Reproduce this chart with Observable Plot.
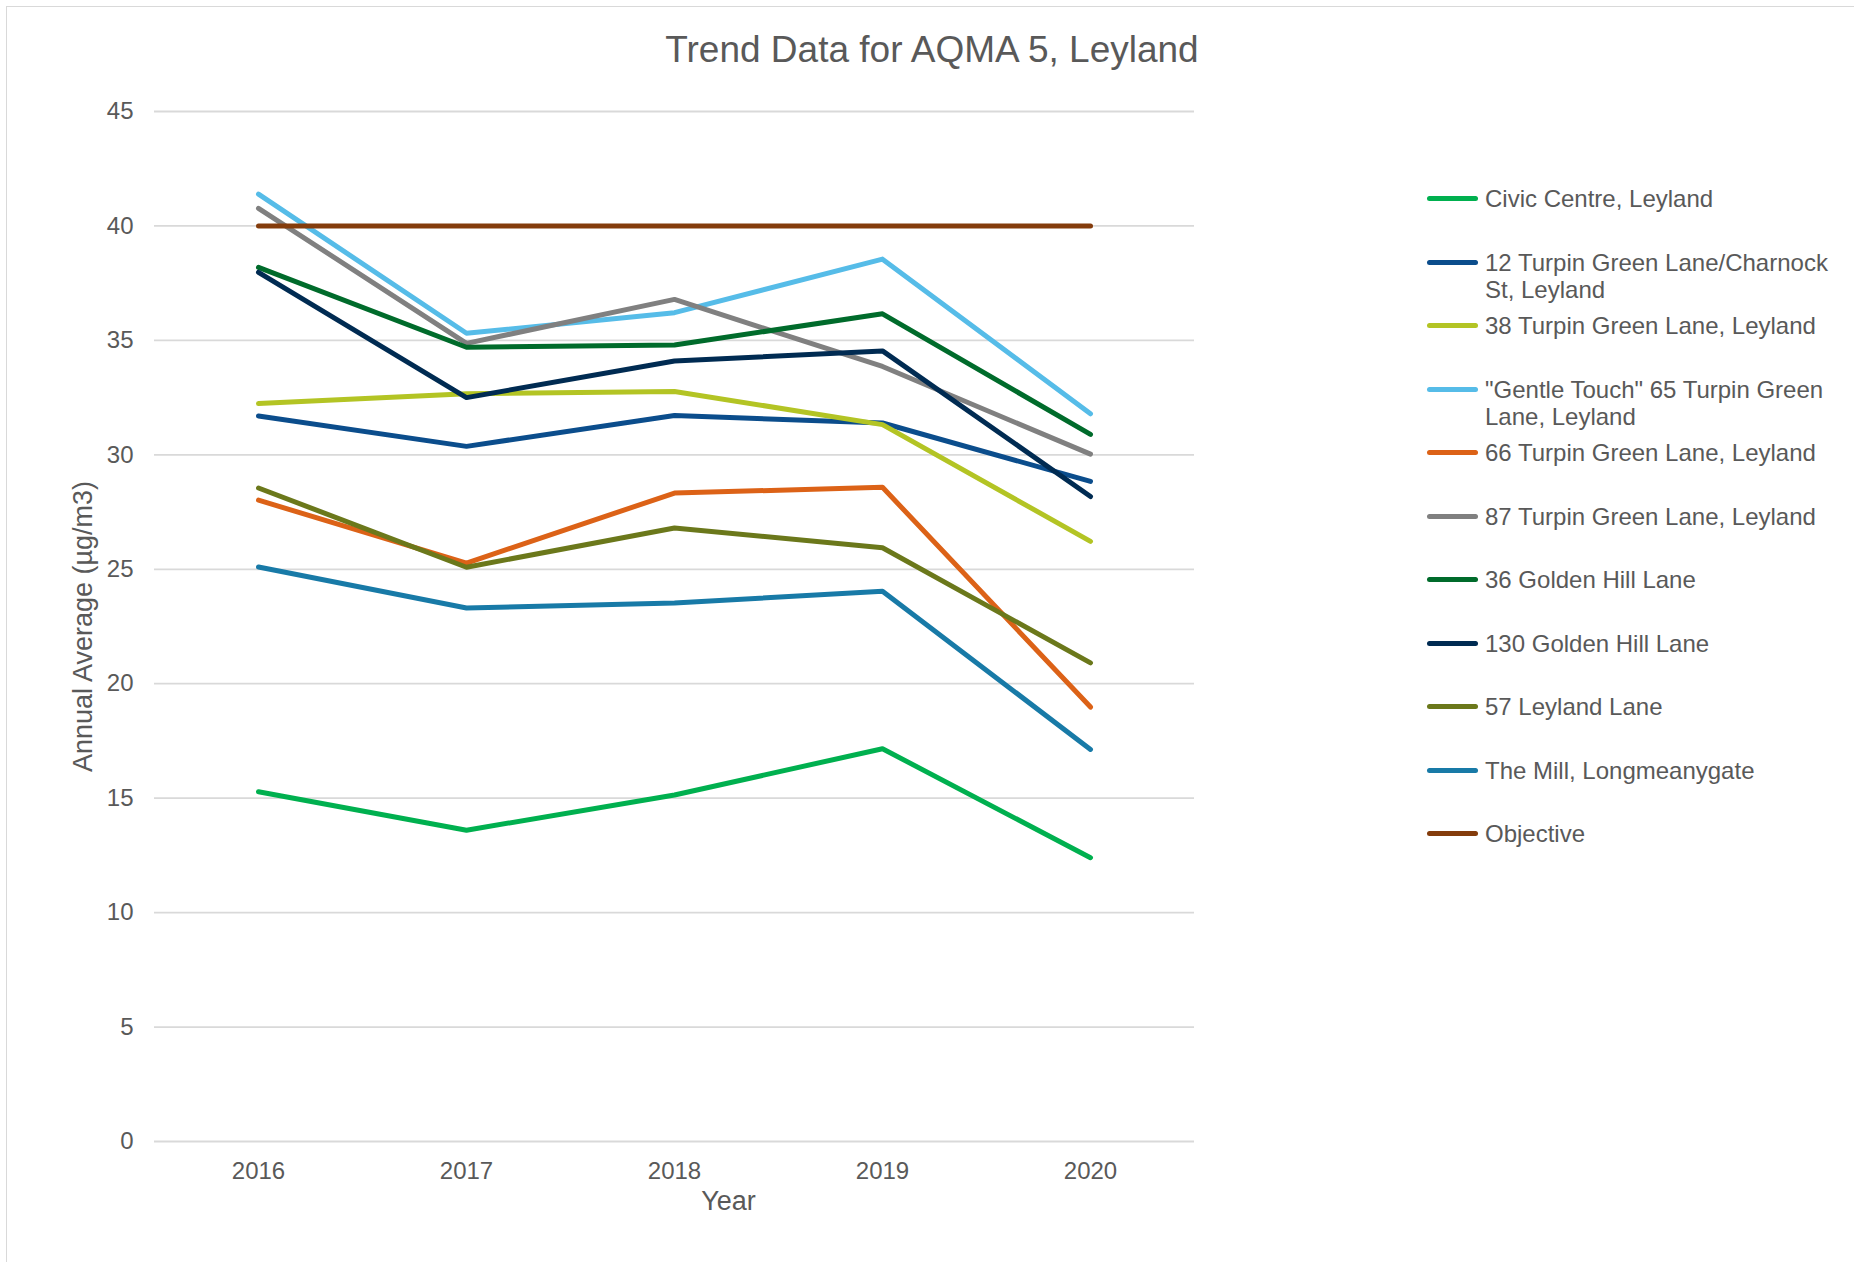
<!DOCTYPE html>
<html>
<head>
<meta charset="utf-8">
<script src="https://cdn.jsdelivr.net/npm/d3@7"></script>
<script src="https://cdn.jsdelivr.net/npm/@observablehq/plot@0.6"></script>
<style>
  html, body { margin: 0; padding: 0; background: #fff; }
  #wrap { position: relative; width: 1854px; height: 1262px; overflow: hidden; font-family: "Liberation Sans", Arial, sans-serif; color: #595959; }
  #border { position: absolute; left: 6px; top: 6px; width: 1900px; height: 1300px; border-top: 1.5px solid #d9d9d9; border-left: 1.5px solid #d9d9d9; }
  #chart { position: absolute; left: 0; top: 0; }
  #title { position: absolute; left: 0; width: 1864px; top: 31px; text-align: center; font-size: 37px; line-height: 1; white-space: nowrap; }
  .sw { position: absolute; left: 1427px; width: 51px; height: 5px; border-radius: 2.5px; }
  .lt { position: absolute; left: 1485px; width: 352px; font-size: 24px; line-height: 27.2px; }
</style>
</head>
<body>
<div id="wrap">
  <div id="border"></div>
  <div id="chart"></div>
  <div id="title"></div>
  <div id="legend"></div>
</div>
<script>
// ---- data ----
const years = ["2016", "2017", "2018", "2019", "2020"];
const seriesNames = [
  "Civic Centre, Leyland",
  "12 Turpin Green Lane/Charnock St, Leyland",
  "38 Turpin Green Lane, Leyland",
  "\"Gentle Touch\" 65 Turpin Green Lane, Leyland",
  "66 Turpin Green Lane, Leyland",
  "87 Turpin Green Lane, Leyland",
  "36 Golden Hill Lane",
  "130 Golden Hill Lane",
  "57 Leyland Lane",
  "The Mill, Longmeanygate",
  "Objective"
];
const seriesColors = [
  "#00b04f", "#0b4d8c", "#b3c424", "#56bce8", "#dc6217", "#808080",
  "#006b2b", "#002b52", "#6b781b", "#187aa7", "#843c0c"
];
const civicCentre   = [15.28, 13.60, 15.14, 17.16, 12.40];
const turpin12      = [31.70, 30.37, 31.72, 31.39, 28.84];
const turpin38      = [32.24, 32.67, 32.77, 31.32, 26.22];
const gentleTouch65 = [41.39, 35.31, 36.21, 38.55, 31.79];
const turpin66      = [28.02, 25.27, 28.33, 28.58, 18.98];
const turpin87      = [40.77, 34.87, 36.79, 33.86, 30.03];
const goldenHill36  = [38.19, 34.70, 34.80, 36.16, 30.89];
const goldenHill130 = [37.97, 32.50, 34.10, 34.54, 28.18];
const leylandLane57 = [28.55, 25.09, 26.80, 25.94, 20.91];
const theMill       = [25.10, 23.31, 23.53, 24.04, 17.13];
const objective     = [40, 40, 40, 40, 40];
const yTicks = [0, 5, 10, 15, 20, 25, 30, 35, 40, 45];

const titleText = "Trend Data for AQMA 5, Leyland";
const xLabel = "Year";
const yLabel = "Annual Average (µg/m3)";

// ---- table ----
const allSeries = [civicCentre, turpin12, turpin38, gentleTouch65, turpin66, turpin87,
                   goldenHill36, goldenHill130, leylandLane57, theMill, objective];
const rows = [];
allSeries.forEach((vals, i) => {
  vals.forEach((v, j) => rows.push({series: seriesNames[i], year: years[j], value: v}));
});

const FONT = "'Liberation Sans', Arial, sans-serif";

const chart = Plot.plot({
  width: 1854,
  height: 1262,
  marginLeft: 154,
  marginRight: 660,
  marginTop: 111,
  marginBottom: 121,
  style: {fontFamily: FONT, fontSize: "24px", color: "#595959", background: "transparent"},
  x: {type: "point", domain: years, padding: 0.5},
  y: {domain: [0, 45]},
  color: {domain: seriesNames, range: seriesColors},
  marks: [
    Plot.gridY(yTicks, {stroke: "#d9d9d9", strokeOpacity: 1, strokeWidth: 1.8}),
    Plot.axisY(yTicks, {tickSize: 0, tickPadding: 21, label: null, fill: "#595959", fontSize: 24}),
    Plot.axisX({tickSize: 0, tickPadding: 20, label: null, fill: "#595959", fontSize: 24}),
    Plot.line(rows, {
      x: "year", y: "value", z: "series", stroke: "series",
      strokeWidth: 5, strokeLinecap: "round", strokeLinejoin: "round"
    }),
    Plot.text([xLabel], {frameAnchor: "bottom", text: d => d, dx: 54, dy: 60,
      lineAnchor: "middle", fill: "#595959", fontSize: 27}),
    Plot.text([yLabel], {frameAnchor: "left", text: d => d, dx: -71, rotate: -90,
      textAnchor: "middle", lineAnchor: "middle", fill: "#595959", fontSize: 27})
  ]
});
document.getElementById("chart").appendChild(chart);

document.getElementById("title").textContent = titleText;

// ---- legend ----
const legend = document.getElementById("legend");
const rowCenters0 = 198.6, rowStep = 63.5;
seriesNames.forEach((name, i) => {
  const cy = rowCenters0 + rowStep * i;
  const sw = document.createElement("div");
  sw.className = "sw";
  sw.style.top = (cy - 2.5) + "px";
  sw.style.background = seriesColors[i];
  legend.appendChild(sw);
  const t = document.createElement("div");
  t.className = "lt";
  t.style.top = (cy - 13.3) + "px";
  t.textContent = name;
  legend.appendChild(t);
});
</script>
</body>
</html>
